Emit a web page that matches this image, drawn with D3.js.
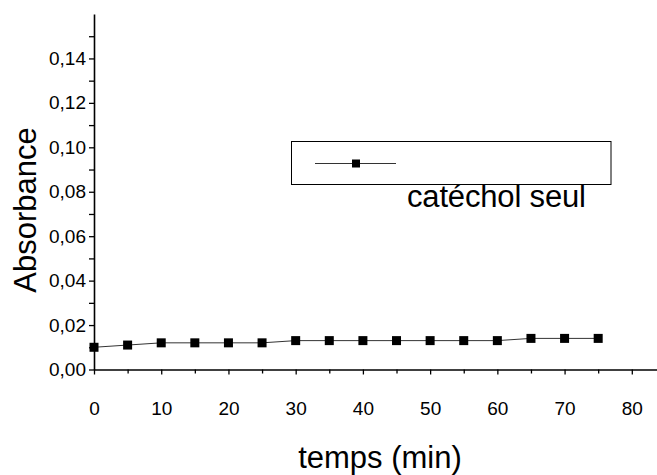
<!DOCTYPE html>
<html>
<head>
<meta charset="utf-8">
<script src="https://cdn.jsdelivr.net/npm/d3@7"></script>
<style>
  body { margin: 0; background: #fff; }
  svg { display: block; font-family: Arial, 'Liberation Sans', sans-serif; }
</style>
</head>
<body>
<svg id="chart" width="657" height="475"></svg>
<script>
const times = [0, 5, 10, 15, 20, 25, 30, 35, 40, 45, 50, 55, 60, 65, 70, 75]
const absorbance = [0.010, 0.011, 0.012, 0.012, 0.012, 0.012, 0.013, 0.013, 0.013, 0.013, 0.013, 0.013, 0.013, 0.014, 0.014, 0.014]
const xMajorTicks = [0, 10, 20, 30, 40, 50, 60, 70, 80]
const yMajorTicks = [0, 0.02, 0.04, 0.06, 0.08, 0.10, 0.12, 0.14]
const seriesName = 'catéchol seul'

const data = times.map((t, i) => ({ t, a: absorbance[i] }))

const svg = d3.select('#chart')
const x = d3.scaleLinear().domain([0, 84]).range([94, 94 + 84 * 6.7225])
const y = d3.scaleLinear().domain([0, 0.16]).range([369.5, 14])
const fmt = d => d3.format('.2f')(d).replace('.', ',')

// minor ticks
svg.append('g')
  .attr('transform', 'translate(0,369.5)')
  .call(d3.axisBottom(x).tickValues(d3.range(5, 84, 10)).tickSize(4).tickFormat(''))
  .call(g => g.select('.domain').remove())
svg.append('g')
  .attr('transform', 'translate(94,0)')
  .call(d3.axisLeft(y).tickValues(d3.range(0.01, 0.161, 0.02)).tickSize(5).tickFormat(''))
  .call(g => g.select('.domain').remove())

// major axes
const xAxis = svg.append('g')
  .attr('transform', 'translate(0,369.5)')
  .call(d3.axisBottom(x).tickValues(xMajorTicks).tickSize(5).tickSizeOuter(0).tickPadding(27))
xAxis.selectAll('text').attr('font-size', 19).attr('fill', '#000').attr('font-family', 'Arial, Liberation Sans, sans-serif')

const yAxis = svg.append('g')
  .attr('transform', 'translate(94,0)')
  .call(d3.axisLeft(y).tickValues(yMajorTicks).tickSize(5).tickSizeOuter(0).tickPadding(3).tickFormat(fmt))
yAxis.selectAll('text').attr('font-size', 19).attr('fill', '#000').attr('font-family', 'Arial, Liberation Sans, sans-serif')

svg.selectAll('.domain').attr('stroke-width', 1.6)
svg.selectAll('.tick line').attr('stroke-width', 1.3)

// axis titles
svg.append('text')
  .attr('x', 380).attr('y', 468)
  .attr('text-anchor', 'middle')
  .attr('font-size', 31)
  .text('temps (min)')
svg.append('text')
  .attr('transform', 'translate(36,210) rotate(-90)')
  .attr('text-anchor', 'middle')
  .attr('font-size', 31)
  .text('Absorbance')

// series
svg.append('path')
  .datum(data)
  .attr('fill', 'none')
  .attr('stroke', '#333')
  .attr('stroke-width', 1)
  .attr('d', d3.line().x(d => x(d.t)).y(d => y(d.a)))

svg.selectAll('rect.pt')
  .data(data)
  .join('rect')
  .attr('class', 'pt')
  .attr('x', d => x(d.t) - 4.5)
  .attr('y', d => y(d.a) - 4.5)
  .attr('width', 9)
  .attr('height', 9)
  .attr('fill', '#000')

// legend
const leg = svg.append('g')
leg.append('rect')
  .attr('x', 291.5).attr('y', 141.5)
  .attr('width', 319.5).attr('height', 43)
  .attr('fill', 'none').attr('stroke', '#000').attr('stroke-width', 1)
leg.append('line')
  .attr('x1', 315).attr('x2', 396).attr('y1', 163.5).attr('y2', 163.5)
  .attr('stroke', '#333').attr('stroke-width', 1)
leg.append('rect')
  .attr('x', 352).attr('y', 159.5).attr('width', 8).attr('height', 8).attr('fill', '#000')
leg.append('text')
  .attr('x', 407).attr('y', 207)
  .attr('font-size', 31)
  .attr('textLength', 179)
  .text(seriesName)
</script>
</body>
</html>
